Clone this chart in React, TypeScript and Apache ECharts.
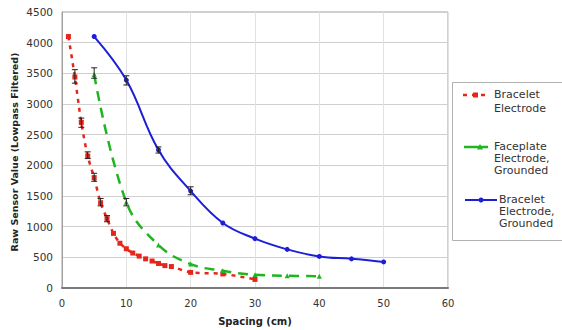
import React, { useEffect, useRef } from "react";
import * as echarts from "echarts";

const redX = [1, 2, 3, 4, 5, 6, 7, 8, 9, 10, 11, 12, 13, 14, 15, 16, 17, 20, 25, 30];
const redY = [4100, 3440, 2700, 2150, 1800, 1390, 1130, 890, 730, 640, 570, 520, 475, 440, 400, 365, 350, 255, 230, 140];

const greenX = [5, 10, 15, 20, 25, 30, 35, 40];
const greenY = [3480, 1400, 700, 390, 280, 215, 200, 190];

const blueX = [5, 10, 15, 20, 25, 30, 35, 40, 45, 50];
const blueY = [4100, 3390, 2250, 1580, 1060, 805, 630, 515, 475, 425];

const errX = [2, 3, 4, 5, 6, 7, 5, 10, 10, 15, 20];
const errLow = [3340, 2620, 2110, 1740, 1340, 1080, 3420, 1340, 3310, 2200, 1520];
const errHigh = [3560, 2770, 2220, 1870, 1460, 1180, 3590, 1460, 3460, 2300, 1650];

const xTicks = [0, 10, 20, 30, 40, 50, 60];
const seriesNames = ["Bracelet\nElectrode", "Faceplate\nElectrode,\nGrounded", "Bracelet\nElectrode,\nGrounded"];
const xTitle = "Spacing (cm)";
const yTitle = "Raw Sensor Value (Lowpass Filtered)";

const RED = "#e5261c";
const GREEN = "#1fb51f";
const BLUE = "#1c1ed8";
const FONT = "DejaVu Sans";

export default function App() {
  const ref = useRef<HTMLDivElement>(null);
  useEffect(() => {
    if (!ref.current) return;
    const chart = echarts.init(ref.current, undefined, { renderer: "svg" });
    const pair = (xs: number[], ys: number[]) => xs.map((x, i) => [x, ys[i]]);
    const errData = errX.map((x, i) => [x, errLow[i], errHigh[i]]);
    chart.setOption({
      animation: false,
      backgroundColor: "#ffffff",
      grid: { left: 62, right: 114, top: 12, bottom: 42, show: true, borderColor: "#a0a0a0", borderWidth: 1 },
      xAxis: {
        type: "value",
        min: xTicks[0],
        max: xTicks[xTicks.length - 1],
        interval: 10,
        axisLine: { show: true, lineStyle: { color: "#7a7a7a", width: 2 } },
        axisTick: { show: false },
        axisLabel: { color: "#333", fontSize: 10, fontFamily: FONT, margin: 10, formatter: (v: number) => String(v) },
        splitLine: { show: true, lineStyle: { color: "#e2e2e2", width: 1 } },
      },
      yAxis: {
        type: "value",
        min: 0,
        max: 4500,
        interval: 500,
        axisLine: { show: true, lineStyle: { color: "#a0a0a0", width: 1 } },
        axisTick: { show: false },
        axisLabel: { color: "#333", fontSize: 10.5, fontFamily: FONT, margin: 9, formatter: (v: number) => String(v) },
        splitLine: { show: true, lineStyle: { color: "#cfcfcf", width: 1 } },
      },
      series: [
        {
          name: seriesNames[0],
          type: "line",
          data: pair(redX, redY),
          smooth: 0.3,
          symbol: "rect",
          symbolSize: 5,
          itemStyle: { color: RED },
          lineStyle: { color: RED, width: 2.5, type: [4, 5] },
          z: 3,
        },
        {
          name: seriesNames[1],
          type: "line",
          data: pair(greenX, greenY),
          smooth: 0.4,
          symbol: "triangle",
          symbolSize: 5,
          itemStyle: { color: GREEN },
          lineStyle: { color: GREEN, width: 2.5, type: [10, 7] },
          z: 3,
        },
        {
          name: seriesNames[2],
          type: "line",
          data: pair(blueX, blueY),
          smooth: 0.4,
          symbol: "circle",
          symbolSize: 5,
          itemStyle: { color: BLUE },
          lineStyle: { color: BLUE, width: 2 },
          z: 3,
        },
        {
          type: "custom",
          data: errData,
          z: 5,
          renderItem: (params: any, api: any) => {
            const x = api.value(0);
            const lo = api.coord([x, api.value(1)]);
            const hi = api.coord([x, api.value(2)]);
            const w = 3;
            const st = { stroke: "#222", lineWidth: 1 };
            return {
              type: "group",
              children: [
                { type: "line", shape: { x1: lo[0], y1: lo[1], x2: hi[0], y2: hi[1] }, style: st },
                { type: "line", shape: { x1: lo[0] - w, y1: lo[1], x2: lo[0] + w, y2: lo[1] }, style: st },
                { type: "line", shape: { x1: hi[0] - w, y1: hi[1], x2: hi[0] + w, y2: hi[1] }, style: st },
              ],
            };
          },
        },
      ],
      graphic: [
        {
          type: "text",
          x: 255,
          y: 316,
          style: { text: xTitle, font: `bold 10px "${FONT}"`, fill: "#222", align: "center", verticalAlign: "top" },
        },
        {
          type: "text",
          x: 14,
          y: 152,
          rotation: Math.PI / 2,
          style: { text: yTitle, font: `bold 9.5px "${FONT}"`, fill: "#222", align: "center", verticalAlign: "middle" },
        },
        {
          type: "rect",
          shape: { x: 452.5, y: 82.5, width: 140, height: 158 },
          style: { fill: "#fff", stroke: "#b0b0b0", lineWidth: 1 },
          z: 10,
        },
        {
          type: "line",
          shape: { x1: 463, y1: 95, x2: 490, y2: 95 },
          style: { stroke: RED, lineWidth: 2.5, lineDash: [4, 5] },
          z: 11,
        },
        { type: "rect", shape: { x: 473, y: 92.5, width: 5, height: 5 }, style: { fill: RED }, z: 11 },
        {
          type: "line",
          shape: { x1: 464, y1: 147, x2: 488, y2: 147 },
          style: { stroke: GREEN, lineWidth: 2.5 },
          z: 11,
        },
        { type: "polygon", shape: { points: [[480, 144], [483, 149.5], [477, 149.5]] }, style: { fill: GREEN }, z: 11 },
        {
          type: "line",
          shape: { x1: 465, y1: 200, x2: 497, y2: 200 },
          style: { stroke: BLUE, lineWidth: 2 },
          z: 11,
        },
        { type: "circle", shape: { cx: 481, cy: 200, r: 2.5 }, style: { fill: BLUE }, z: 11 },
        {
          type: "text",
          x: 494,
          y: 88,
          z: 11,
          style: { text: seriesNames[0], font: `11px "${FONT}"`, lineHeight: 13.5, fill: "#333", verticalAlign: "top" },
        },
        {
          type: "text",
          x: 494,
          y: 140.5,
          z: 11,
          style: { text: seriesNames[1], font: `11px "${FONT}"`, lineHeight: 12, fill: "#333", verticalAlign: "top" },
        },
        {
          type: "text",
          x: 499,
          y: 193.5,
          z: 11,
          style: { text: seriesNames[2], font: `11px "${FONT}"`, lineHeight: 12, fill: "#333", verticalAlign: "top" },
        },
      ],
    });
    return () => chart.dispose();
  }, []);
  return <div ref={ref} style={{ position: "fixed", left: 0, top: 0, width: 562, height: 330 }} />;
}
